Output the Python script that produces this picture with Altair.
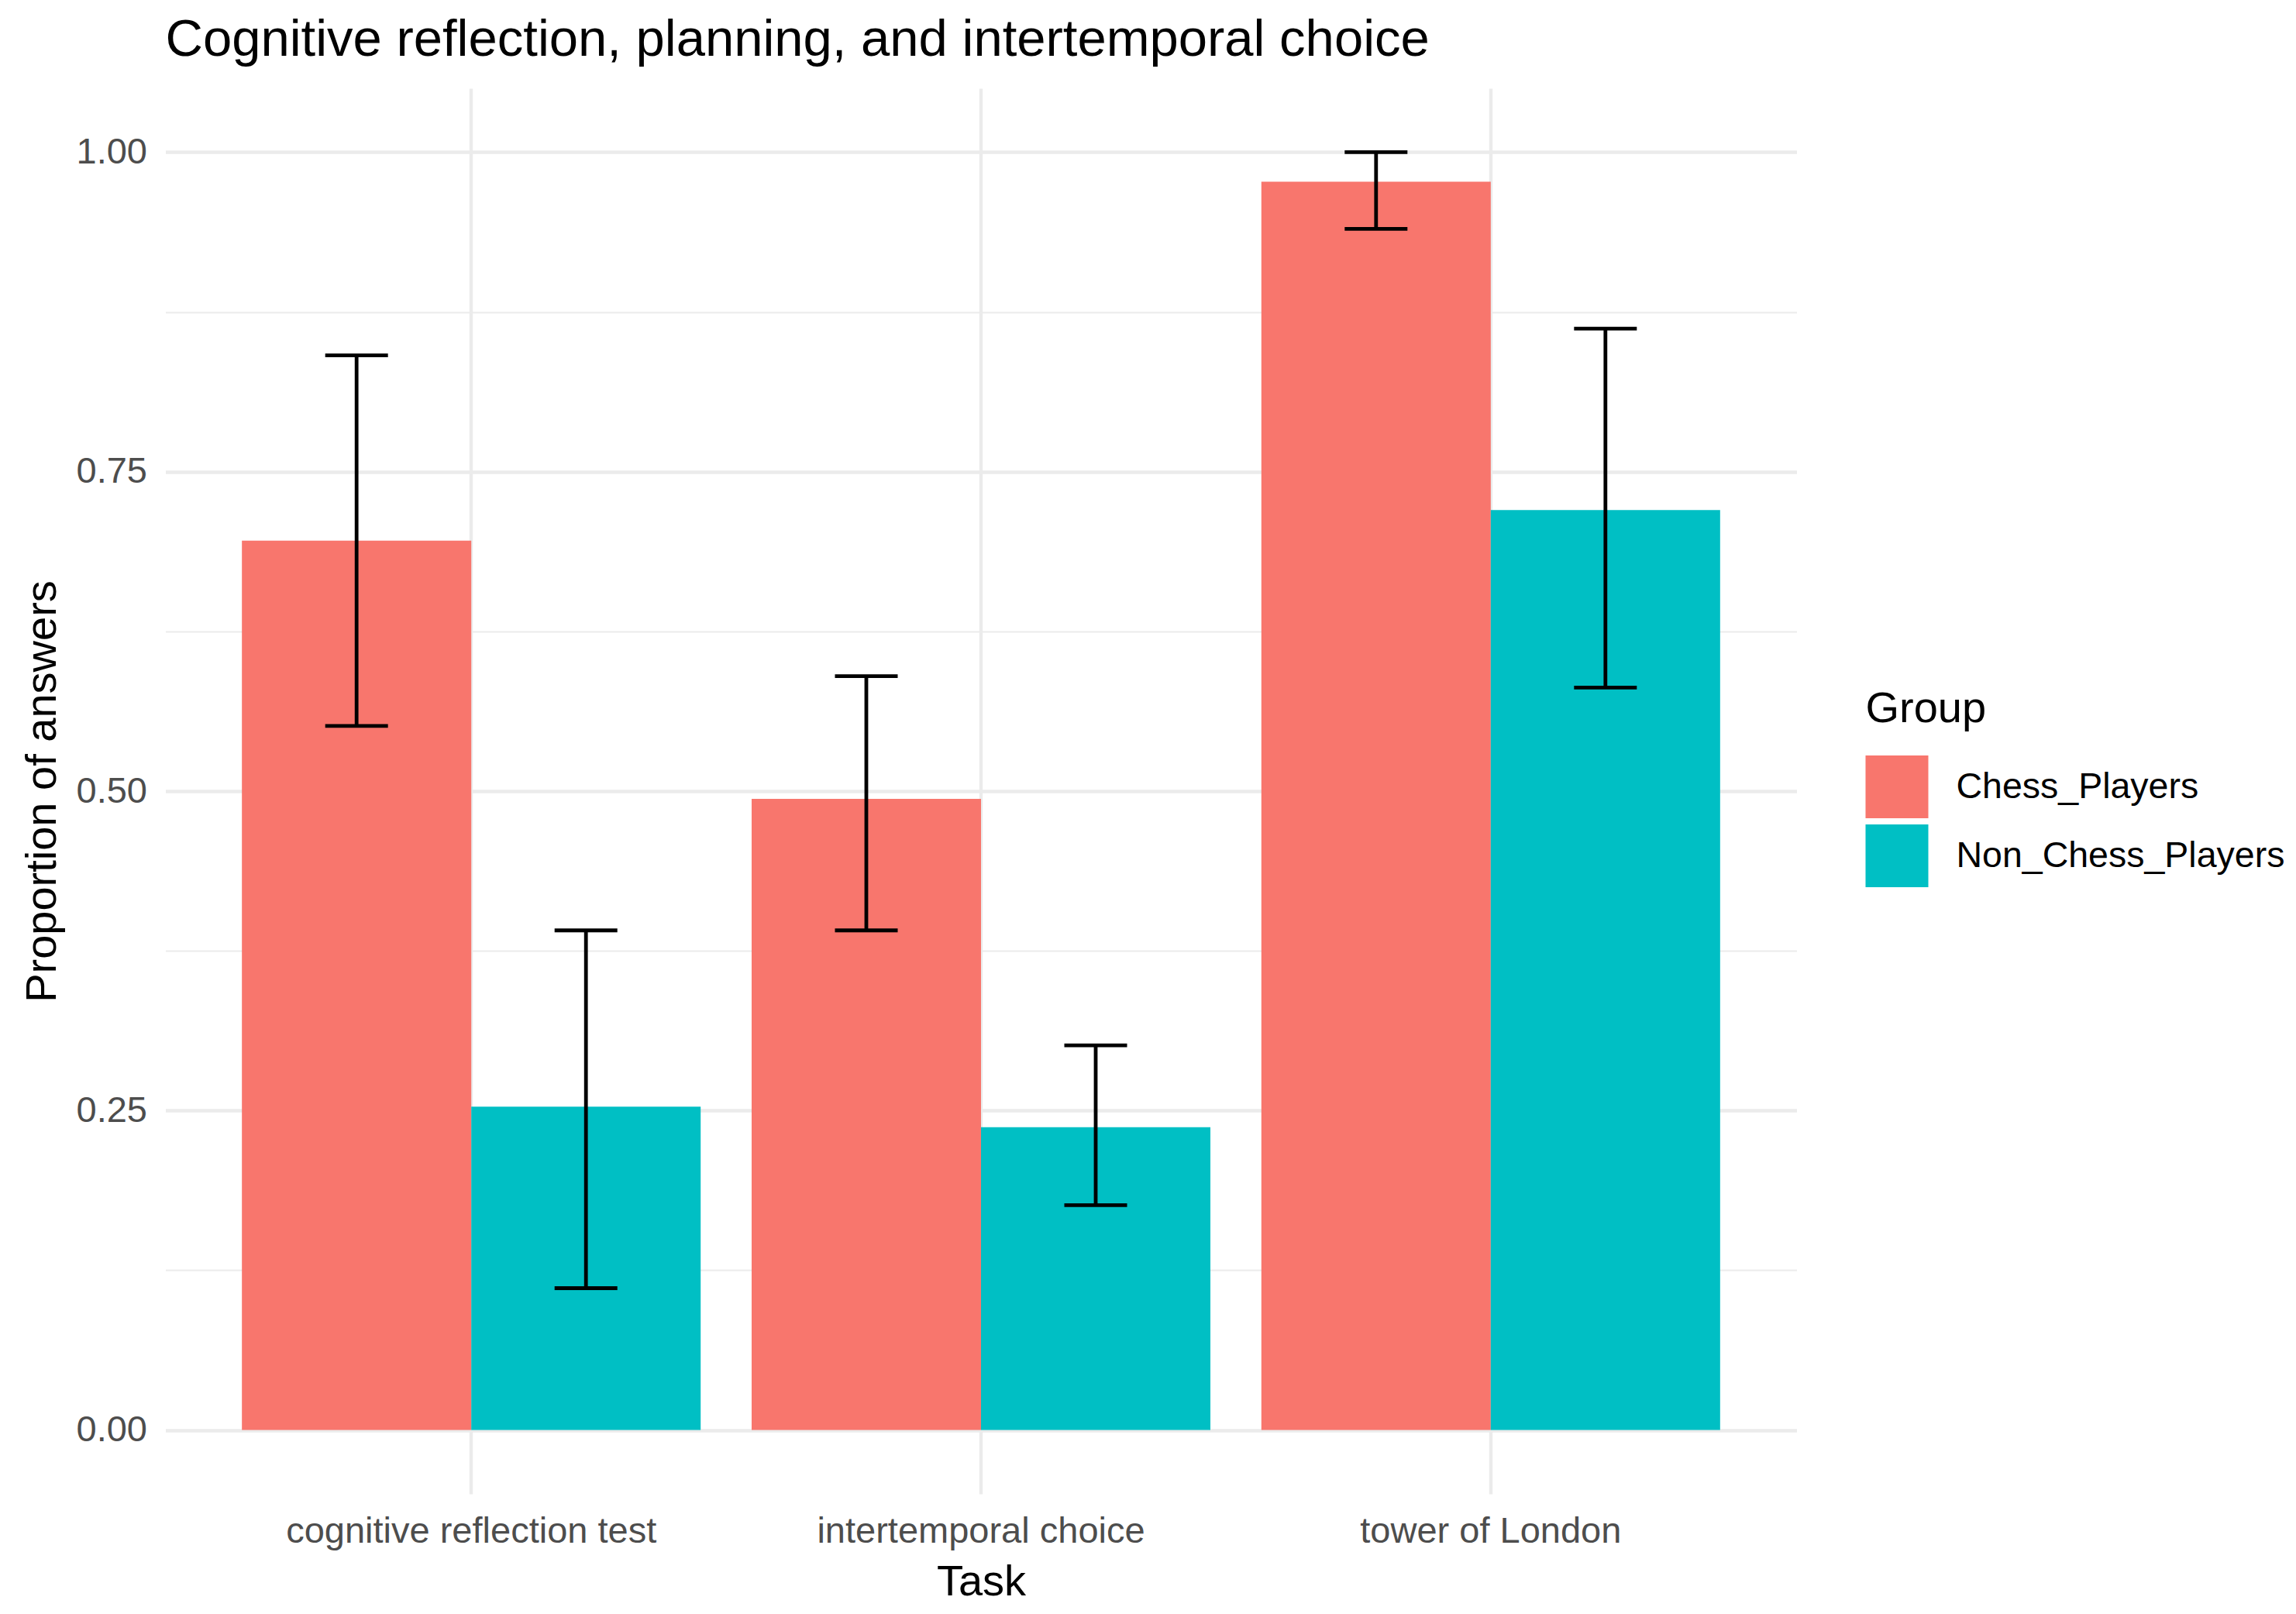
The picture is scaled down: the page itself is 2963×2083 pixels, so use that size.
import altair as alt
import pandas as pd

tasks = ["cognitive reflection test", "intertemporal choice", "tower of London"]
groups = ["Chess_Players", "Non_Chess_Players"]
colors = ["#F8766D", "#00BFC4"]

chess_mean = [0.696, 0.494, 0.977]
chess_lo = [0.551, 0.391, 0.940]
chess_hi = [0.841, 0.590, 1.000]
non_mean = [0.253, 0.237, 0.720]
non_lo = [0.111, 0.176, 0.581]
non_hi = [0.391, 0.301, 0.862]

y_ticks = [0, 0.125, 0.25, 0.375, 0.5, 0.625, 0.75, 0.875, 1.0]

rows = []
for i, t in enumerate(tasks):
    rows.append(dict(Task=t, Group=groups[0], prop=chess_mean[i], lo=chess_lo[i], hi=chess_hi[i]))
    rows.append(dict(Task=t, Group=groups[1], prop=non_mean[i], lo=non_lo[i], hi=non_hi[i]))
df = pd.DataFrame(rows)

FONT = "Liberation Sans"
W, H = 2105, 1814

x_enc = alt.X(
    "Task:N", sort=tasks,
    scale=alt.Scale(paddingInner=0.1, paddingOuter=0.15),
    axis=alt.Axis(
        title="Task", labelAngle=0, labelLimit=1000,
        labelBaseline="alphabetic", labelPadding=62,
        titleY=130, titleBaseline="alphabetic",
        grid=True, gridColor="#EBEBEB", gridWidth=4.4,
    ),
)
xoff = alt.XOffset("Group:N", sort=groups, scale=alt.Scale(paddingInner=0, paddingOuter=0))
y_scale = alt.Scale(domain=[-0.05, 1.05], nice=False, zero=False)

base = alt.Chart(df)

bars = base.mark_bar().encode(
    x=x_enc,
    xOffset=xoff,
    y=alt.Y(
        "prop:Q", scale=y_scale,
        axis=alt.Axis(
            title="Proportion of answers",
            values=y_ticks,
            labelExpr="abs(datum.value*4 - round(datum.value*4)) > 0.01 ? '' : format(datum.value, '.2f')",
            grid=True, gridColor="#EBEBEB",
            gridWidth={"condition": {"test": "abs(datum.value*4 - round(datum.value*4)) > 0.01", "value": 2.2}, "value": 4.4},
            labelPadding=24, labelAlign="right", labelBaseline="middle",
            titleX=-142, titleY=H / 2, titleBaseline="alphabetic", titleAngle=270,
        ),
    ),
    color=alt.Color(
        "Group:N", sort=groups,
        scale=alt.Scale(domain=groups, range=colors),
        legend=alt.Legend(
            title="Group", orient="none", legendX=2194, legendY=774,
            titleFontSize=56, titleFont=FONT, titleFontWeight="normal", titleColor="black",
            titlePadding=31,
            labelFontSize=46.5, labelFont=FONT, labelColor="black", labelOffset=36, labelLimit=1000,
            symbolType="square", symbolSize=6561, symbolStrokeWidth=0, symbolOpacity=1,
            rowPadding=8, padding=0,
        ),
    ),
)

rules = base.mark_rule(color="black", strokeWidth=4.8).encode(
    x=alt.X("Task:N", sort=tasks),
    xOffset=xoff,
    y=alt.Y("lo:Q", scale=y_scale),
    y2="hi:Q",
)
caps_lo = base.mark_tick(color="black", size=81, thickness=4.8, opacity=1).encode(
    x=alt.X("Task:N", sort=tasks),
    xOffset=xoff,
    y=alt.Y("lo:Q", scale=y_scale),
)
caps_hi = base.mark_tick(color="black", size=81, thickness=4.8, opacity=1).encode(
    x=alt.X("Task:N", sort=tasks),
    xOffset=xoff,
    y=alt.Y("hi:Q", scale=y_scale),
)

chart = alt.layer(bars, rules, caps_lo, caps_hi).properties(
    width=W, height=H,
    title=alt.TitleParams(
        "Cognitive reflection, planning, and intertemporal choice",
        anchor="start", frame="group", fontSize=67, font=FONT,
        fontWeight="normal", color="black", offset=-25, baseline="alphabetic",
    ),
    autosize=alt.AutoSizeParams(type="none"),
    padding={"left": 205.5, "top": 106, "right": 634, "bottom": 151},
).configure_view(stroke=None).configure_axis(
    domain=False, ticks=False, tickSize=0,
    labelFont=FONT, labelFontSize=47, labelColor="#4D4D4D",
    titleFont=FONT, titleFontSize=56, titleFontWeight="normal", titleColor="black",
)

chart.save("out.html", embed_options={"renderer": "svg", "actions": False})
